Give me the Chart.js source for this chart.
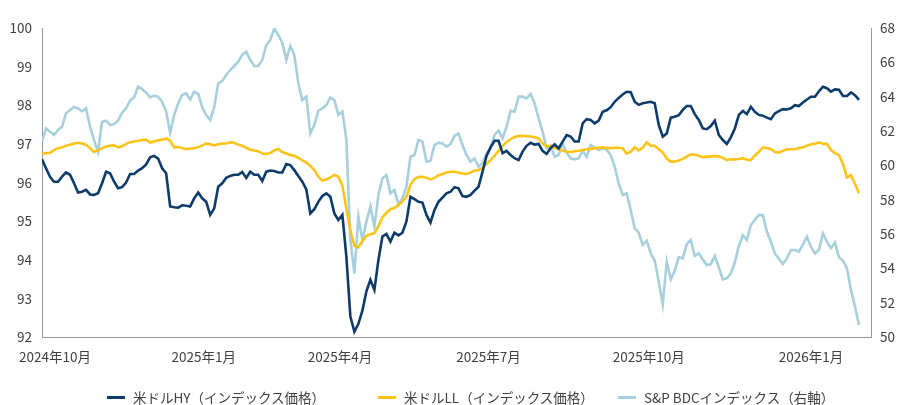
<!DOCTYPE html>
<html lang="ja">
<head>
<meta charset="utf-8">
<title>米ドルHY・米ドルLL・S&P BDCインデックス</title>
<script src="https://cdn.jsdelivr.net/npm/chart.js@4/dist/chart.umd.min.js"></script>
<style>
  html, body { margin: 0; padding: 0; background: #fff; overflow: hidden; }
  .chart-wrap { position: relative; width: 902px; height: 405px; }
  .legend { position: absolute; left: 0; top: 387px; width: 902px; height: 20px;
            font-family: "Noto Sans CJK JP", "Noto Sans", sans-serif; font-size: 13.5px; color: #404040; }
  .legend-item { position: absolute; top: 0; display: flex; align-items: center; height: 20px; white-space: nowrap; }
  .legend-mark { display: inline-block; width: 18px; height: 3px; margin-right: 8px; }
</style>
</head>
<body>
<div class="chart-wrap">
  <canvas id="indexChart"></canvas>
  <div class="legend" id="legend"></div>
</div>
<script>
// ─── Data (one value every few trading days) ───
const hyPrice = [
  96.6, 96.37, 96.15, 96.02, 96.02, 96.15, 96.26, 96.2, 95.98, 95.74,
  95.76, 95.81, 95.69, 95.68, 95.72, 95.98, 96.28, 96.24, 96.02, 95.85,
  95.88, 96.0, 96.22, 96.22, 96.31, 96.37, 96.47, 96.65, 96.69, 96.62,
  96.37, 96.24, 95.38, 95.36, 95.35, 95.41, 95.4, 95.38, 95.59, 95.74,
  95.59, 95.5, 95.16,
  95.33, 95.89, 95.98, 96.12, 96.17, 96.2, 96.2, 96.27, 96.12, 96.28,
  96.2, 96.2, 96.04, 96.28, 96.31, 96.3, 96.26, 96.26, 96.48, 96.45,
  96.32, 96.17, 96.02, 95.82, 95.2, 95.31, 95.5, 95.65, 95.72, 95.63,
  95.2, 95.03, 95.16, 94.08, 92.53, 92.14, 92.34, 92.68, 93.18, 93.48,
  93.22,
  93.99, 94.6, 94.67, 94.47, 94.7, 94.63, 94.7, 94.99, 95.63, 95.57,
  95.5, 95.48, 95.16, 94.96, 95.29, 95.5, 95.61, 95.72, 95.76, 95.88,
  95.85, 95.65, 95.63, 95.68, 95.79, 95.89, 96.28, 96.69, 96.91, 97.08,
  97.08, 96.76, 96.82, 96.71, 96.63, 96.58, 96.8, 96.95, 97.03, 96.98,
  97.0,
  96.82, 96.74, 96.89, 96.99, 96.88, 97.06, 97.23, 97.19, 97.06, 97.06,
  97.53, 97.64, 97.62, 97.53, 97.6, 97.83, 97.87, 97.95, 98.09, 98.19,
  98.28, 98.35, 98.34, 98.09, 98.01, 98.05, 98.07, 98.09, 98.05, 97.49,
  97.19, 97.27, 97.68, 97.7, 97.74, 97.88, 97.98, 97.98, 97.77, 97.62,
  97.4,
  97.38, 97.46, 97.6, 97.23, 97.1, 97.0, 97.17, 97.4, 97.75, 97.85,
  97.77, 97.96, 97.83, 97.75, 97.73, 97.68, 97.64, 97.79, 97.85, 97.9,
  97.89, 97.92, 98.0, 97.98, 98.07, 98.15, 98.22, 98.22, 98.36, 98.48,
  98.44, 98.35, 98.41, 98.4, 98.24, 98.24, 98.33, 98.26, 98.14
];

const llPrice = [
  96.74, 96.76, 96.77, 96.84, 96.89, 96.91, 96.95, 96.98, 97.01, 97.03,
  97.01, 96.98, 96.89, 96.79, 96.83, 96.89, 96.93, 96.95, 96.96, 96.91,
  96.94, 97.0, 97.04, 97.06, 97.08, 97.1, 97.11, 97.03, 97.07, 97.09,
  97.11, 97.14, 97.08, 96.91, 96.92, 96.89, 96.86, 96.88, 96.89, 96.91,
  96.96, 97.01, 96.99,
  96.96, 96.99, 97.01, 97.01, 97.04, 97.03, 96.98, 96.95, 96.9, 96.85,
  96.83, 96.81, 96.75, 96.74, 96.76, 96.83, 96.87, 96.79, 96.75, 96.71,
  96.69, 96.64, 96.57, 96.52, 96.43, 96.32, 96.15, 96.05, 96.08, 96.13,
  96.2, 96.15, 95.92, 95.33, 94.77, 94.36, 94.32, 94.49, 94.62, 94.66,
  94.69,
  94.87, 95.1, 95.21, 95.31, 95.34, 95.42, 95.51, 95.63, 95.94, 96.09,
  96.14, 96.15, 96.12, 96.08, 96.12, 96.19, 96.22, 96.26, 96.28, 96.28,
  96.26, 96.23, 96.22, 96.26, 96.31, 96.32, 96.38, 96.48, 96.58, 96.69,
  96.82, 96.94, 97.05, 97.12, 97.18, 97.2, 97.21, 97.2, 97.19, 97.17,
  97.14,
  97.01, 96.94, 96.95, 96.89, 96.88, 96.82, 96.8, 96.79, 96.81, 96.82,
  96.84, 96.86, 96.87, 96.89, 96.9, 96.91, 96.89, 96.89, 96.9, 96.9,
  96.88, 96.75, 96.8, 96.91, 96.83, 96.9, 97.04, 96.95, 96.95, 96.86,
  96.78, 96.62, 96.54, 96.54, 96.57, 96.61, 96.67, 96.73, 96.72, 96.69,
  96.65,
  96.67, 96.67, 96.69, 96.67, 96.64, 96.58, 96.6, 96.6, 96.61, 96.63,
  96.59, 96.58, 96.7, 96.79, 96.91, 96.89, 96.87, 96.79, 96.77, 96.82,
  96.86, 96.86, 96.86, 96.89, 96.91, 96.95, 96.99, 97.0, 97.04, 97.0,
  97.0, 96.84, 96.76, 96.71, 96.48, 96.13, 96.19, 95.96, 95.72
];

// right axis
const bdcIndex = [
  61.4, 62.15, 61.96, 61.77, 62.06, 62.25, 63.03, 63.22, 63.4, 63.32,
  63.14, 63.32, 62.25, 61.47, 60.8, 62.54, 62.6, 62.35, 62.4, 62.6,
  63.07, 63.32, 63.77, 63.96, 64.58, 64.45, 64.23, 63.96, 64.06, 64.0,
  63.7, 63.13, 61.9, 62.93, 63.6, 64.1, 64.19, 63.84, 64.29, 64.16,
  63.38, 62.93, 62.64,
  63.38, 64.78, 64.91, 65.26, 65.55, 65.79, 66.04, 66.43, 66.62, 66.14,
  65.79, 65.79, 66.14, 67.01, 67.3, 67.98, 67.59, 67.15, 66.14, 66.95,
  66.43, 64.78, 63.8, 64.0, 61.86, 62.35, 63.18, 63.32, 63.51, 63.96,
  63.8, 62.93, 63.13, 61.48, 55.65, 53.7, 57.0, 55.65, 56.72, 57.6,
  56.43,
  58.27, 59.24, 59.44, 58.37, 58.56, 57.73, 58.08, 58.76, 60.5, 60.6,
  61.48, 61.38, 60.21, 60.27, 61.18, 61.32, 61.28, 61.09, 61.24, 61.71,
  61.86, 61.18, 60.6, 60.21, 60.41, 59.92, 60.12, 60.7, 60.99, 61.77,
  62.02, 61.57, 62.25, 63.18, 63.13, 64.0, 64.0, 63.9, 64.16, 63.61,
  62.74,
  61.96, 60.99, 61.13, 60.5, 60.6, 61.28, 60.74, 60.41, 60.35, 60.41,
  60.85, 60.5, 61.18, 61.05, 60.89, 60.99, 60.89, 60.6, 59.92, 58.95,
  58.27, 58.37, 57.4, 56.33, 56.08, 55.36, 55.61, 54.87, 54.45, 53.22,
  51.9, 54.39, 53.36, 53.86, 54.64, 54.58, 55.42, 55.65, 54.72, 54.87,
  54.52,
  54.19, 54.23, 54.72, 54.06, 53.36, 53.42, 53.71, 54.35, 55.3, 55.94,
  55.65, 56.52, 56.82, 57.1, 57.1, 56.14, 55.55, 54.87, 54.56, 54.25,
  54.58, 55.07, 55.07, 54.97, 55.4, 55.84, 55.26, 54.87, 55.07, 56.04,
  55.55, 55.17, 55.5, 54.64, 54.45, 54.0, 52.74, 51.77, 50.7
];

// x tick labels and the sample index each one sits on
const xTickLabels = ['2024年10月', '2025年1月', '2025年4月', '2025年7月', '2025年10月', '2026年1月'];
const xTickPos = [3.25, 40.4, 74.4, 111.5, 151.5, 192];

const seriesNames = ['米ドルHY（インデックス価格）', '米ドルLL（インデックス価格）', 'S&P BDCインデックス（右軸）'];

// ─── Style ──────────────────────────────────────────────────
const FONT = '"Noto Sans CJK JP", "Noto Sans", sans-serif';
const TEXT_COLOR = '#404040';
const AXIS_COLOR = '#8e9aa6';
const COLORS = ['#0d3c6b', '#fcc419', '#a8cfdc'];
const LEGEND_LEFT = [107, 378, 618];

const toPoints = arr => arr.map((v, i) => ({ x: i, y: v }));

function lineSet(i, values, axisId) {
  return {
    label: seriesNames[i],
    data: toPoints(values),
    borderColor: COLORS[i],
    backgroundColor: COLORS[i],
    borderWidth: 2.6,
    pointRadius: 0,
    tension: 0,
    yAxisID: axisId
  };
}

// ─── Legend (HTML, laid out like the original) ──────────────
function buildLegend() {
  const box = document.getElementById('legend');
  seriesNames.forEach((name, i) => {
    const item = document.createElement('div');
    item.className = 'legend-item';
    item.style.left = LEGEND_LEFT[i] + 'px';
    const mark = document.createElement('span');
    mark.className = 'legend-mark';
    mark.style.background = COLORS[i];
    const text = document.createElement('span');
    text.textContent = name;
    item.appendChild(mark);
    item.appendChild(text);
    box.appendChild(item);
  });
}

// ─── Chart ──────────────────────────────────────────────────
new Chart(document.getElementById('indexChart'), {
  type: 'line',
  data: {
    datasets: [
      lineSet(0, hyPrice, 'y'),
      lineSet(1, llPrice, 'y'),
      lineSet(2, bdcIndex, 'y2')
    ]
  },
  options: {
    responsive: true,
    maintainAspectRatio: false,
    animation: false,
    layout: { padding: { top: 28, left: 0, right: 0, bottom: 0 } },
    plugins: {
      tooltip: { enabled: false },
      legend: { display: false }
    },
    scales: {
      x: {
        type: 'linear',
        min: 0,
        max: 207,
        grid: { display: false, drawTicks: false },
        border: { display: true, color: AXIS_COLOR, width: 1 },
        ticks: {
          autoSkip: false,
          maxRotation: 0,
          padding: 12,
          color: TEXT_COLOR,
          font: { family: FONT, size: 13.5 },
          callback: v => xTickLabels[xTickPos.indexOf(v)] || ''
        },
        afterBuildTicks: axis => { axis.ticks = xTickPos.map(v => ({ value: v })); },
        afterFit: scale => { scale.height = 68; }
      },
      y: {
        position: 'left',
        min: 92,
        max: 100,
        grid: { display: false, drawTicks: false },
        border: { display: true, color: AXIS_COLOR, width: 1 },
        ticks: { stepSize: 1, padding: 10, color: TEXT_COLOR, font: { family: FONT, size: 13.5 } },
        afterFit: scale => { scale.width = 42; }
      },
      y2: {
        position: 'right',
        min: 50,
        max: 68,
        grid: { display: false, drawTicks: false },
        border: { display: true, color: AXIS_COLOR, width: 1 },
        ticks: { stepSize: 2, padding: 9, color: TEXT_COLOR, font: { family: FONT, size: 13.5 } },
        afterFit: scale => { scale.width = 31; }
      }
    }
  }
});

buildLegend();
</script>
</body>
</html>
